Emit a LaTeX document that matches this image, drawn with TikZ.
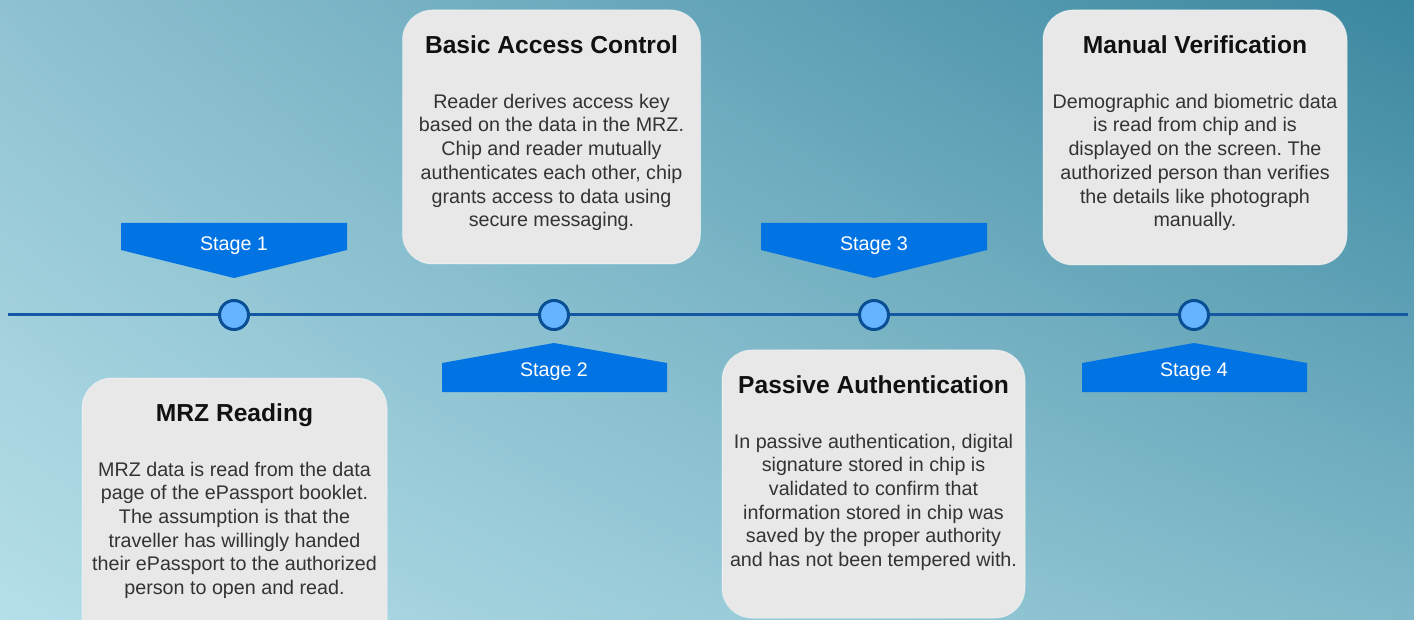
\documentclass[tikz,border=0pt]{standalone}
\usepackage{fontspec}
\setmainfont{Liberation Sans}
\usetikzlibrary{shadings}
\frenchspacing
\definecolor{bgTL}{RGB}{143,194,209}
\definecolor{bgTR}{RGB}{58,135,160}
\definecolor{bgBL}{RGB}{181,223,233}
\definecolor{bgBR}{RGB}{128,185,201}
\definecolor{cardgray}{RGB}{232,232,232}
\definecolor{titlecol}{RGB}{17,17,17}
\definecolor{bodycol}{RGB}{51,51,51}
\definecolor{bannerblue}{RGB}{2,115,227}
\definecolor{dotfill}{RGB}{102,180,255}
\definecolor{dotedge}{RGB}{10,78,148}
\definecolor{linecol}{RGB}{20,88,163}
\begin{document}
\begin{tikzpicture}[x=1pt,y=-1pt,
  card/.style={fill=cardgray, rounded corners=30pt, draw=white, draw opacity=0.4,
    line width=1pt, inner sep=0pt},
  ctitle/.style={font=\fontsize{24.6}{29}\selectfont\bfseries, text=titlecol,
    inner sep=0pt, anchor=base},
  % body text is placed by the baseline of its last line
  cbody/.style={font=\fontsize{19.7}{23.7}\selectfont, text=bodycol, align=center,
    inner sep=0pt, anchor=base},
  banner/.style={fill=bannerblue},
  blabel/.style={font=\fontsize{19.7}{23.6}\selectfont, text=white, inner sep=0pt,
    anchor=base},
  dot/.style={circle, fill=dotfill, draw=dotedge, line width=3pt,
    minimum size=29pt, inner sep=0pt},
  axis/.style={draw=linecol, line width=3pt},
]
\useasboundingbox (0,0) rectangle (1414,620);
% background
\shade[upper left=bgTL, upper right=bgTR, lower left=bgBL, lower right=bgBR]
  (0,0) rectangle (1414,620);

% timeline
\coordinate (tlA) at (8,315);
\coordinate (tlB) at (1408,315);
\draw[axis] (tlA) -- (tlB);

% stage markers
\node[dot] (d1) at (234,315) {};
\node[dot] (d2) at (554,315) {};
\node[dot] (d3) at (874,315) {};
\node[dot] (d4) at (1194,315) {};

% banners above the line (pointing down)
\fill[banner] (121,223) -- (347,223) -- (347,250) -- (234,278) -- (121,250) -- cycle;
\node[blabel] (s1) at (234,251) {Stage 1};
\fill[banner] (761,223) -- (987,223) -- (987,250) -- (874,278) -- (761,250) -- cycle;
\node[blabel] (s3) at (874,251) {Stage 3};
% banners below the line (pointing up)
\fill[banner] (442,363) -- (554,343) -- (667,363) -- (667,392) -- (442,392) -- cycle;
\node[blabel] (s2) at (554,377) {Stage 2};
\fill[banner] (1082,363) -- (1194,343) -- (1307,363) -- (1307,392) -- (1082,392) -- cycle;
\node[blabel] (s4) at (1194,377) {Stage 4};

% cards
\node[card, minimum width=305pt, minimum height=272pt] (c1) at (234.5,514) {};
\node[ctitle] (t1) at (234.5,421) {MRZ Reading};
\node[cbody] (b1) at (234.5,594.5) {MRZ data is read from the data\\page of the ePassport booklet.\\The assumption is that the\\traveller has willingly handed\\their ePassport to the authorized\\person to open and read.};

\node[card, minimum width=298pt, minimum height=254pt] (c2) at (551.5,137) {};
\node[ctitle] (t2) at (551.5,53.5) {Basic Access Control};
\node[cbody] (b2) at (551.5,226.8) {Reader derives access key\\based on the data in the MRZ.\\Chip and reader mutually\\authenticates each other, chip\\grants access to data using\\secure messaging.};

\node[card, minimum width=303pt, minimum height=268pt] (c3) at (873.5,484) {};
\node[ctitle] (t3) at (873.5,393.3) {Passive Authentication};
\node[cbody] (b3) at (873.5,566.5) {In passive authentication, digital\\signature stored in chip is\\validated to confirm that\\information stored in chip was\\saved by the proper authority\\and has not been tempered with.};

\node[card, minimum width=304pt, minimum height=255pt] (c4) at (1195,137.5) {};
\node[ctitle] (t4) at (1195,53.5) {Manual Verification};
\node[cbody] (b4) at (1195,226.8) {Demographic and biometric data\\is read from chip and is\\displayed on the screen. The\\authorized person than verifies\\the details like photograph\\manually.};
\end{tikzpicture}
\end{document}
